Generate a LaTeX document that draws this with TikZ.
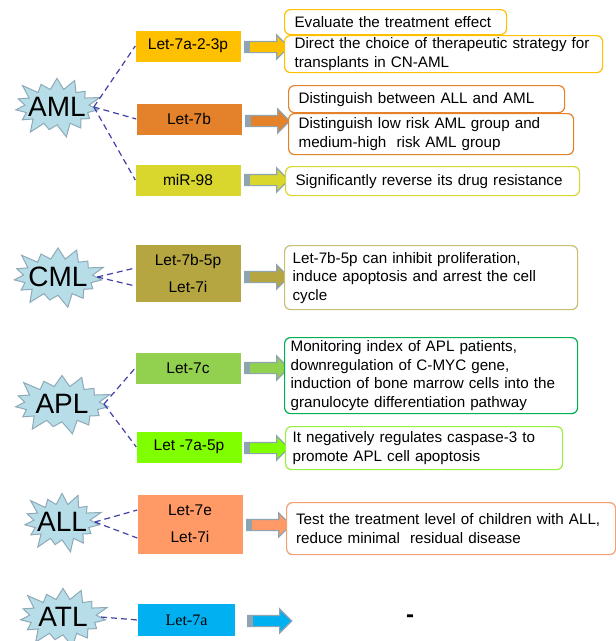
\documentclass[tikz,border=0pt]{standalone}
\usepackage{fontspec}
\setmainfont{Liberation Sans}
\newfontfamily\serifletfont{Liberation Serif}
\usepackage{xcolor}
\usepackage{tikz}
\usetikzlibrary{shapes,shapes.symbols,shapes.arrows,positioning,calc}

\definecolor{starblue}{HTML}{B7DEE8}
\definecolor{stargray}{HTML}{8EA9B8}
\definecolor{arrgray}{HTML}{8EA4B0}
\definecolor{linkblue}{HTML}{4040A8}
\definecolor{colA}{HTML}{FFC000}
\definecolor{colB}{HTML}{E3822A}
\definecolor{colC}{HTML}{D9D62E}
\definecolor{colD}{HTML}{B5A642}
\definecolor{colDline}{HTML}{C8C070}
\definecolor{colE}{HTML}{92D050}
\definecolor{colEline}{HTML}{00B050}
\definecolor{colF}{HTML}{80FF00}
\definecolor{colFline}{HTML}{99F040}
\definecolor{colG}{HTML}{FF9966}
\definecolor{colGline}{HTML}{F4A070}
\definecolor{colH}{HTML}{00B0F0}

\tikzstyle{disease} = [starburst, starburst points=15, starburst point height=15pt, draw=stargray, fill=starblue, line width=1pt, font=\fontsize{28}{28}\selectfont, inner ysep=3pt]
\tikzstyle{mirna} = [rectangle, minimum width=105pt, minimum height=31pt, font=\fontsize{15.5}{27}\selectfont, align=center, inner sep=0pt]
\tikzstyle{effect} = [rectangle, rounded corners=6pt, draw, line width=1.2pt, fill=white, anchor=north west, align=left, inner xsep=10pt, inner ysep=0pt, font=\fontsize{15.2}{18.5}\selectfont]
\tikzstyle{fatarrow} = [single arrow, draw=arrgray, line width=1.2pt, minimum height=44pt, inner xsep=0pt, inner ysep=5pt, single arrow head extend=6.5pt, path picture={\fill[arrgray] (path picture bounding box.south west) rectangle ([xshift=5pt]path picture bounding box.north west);}]
\tikzstyle{link} = [linkblue, dashed, dash pattern=on 6pt off 4pt, line width=1.2pt]

\begin{document}
\begin{tikzpicture}[x=1pt, y=-1pt]
    \useasboundingbox (0,0) rectangle (616,641);

    % AML
    \node[disease, inner xsep=-6pt] (aml) at (57,107) {AML};
    \node[mirna, fill=colA] (m1) at (188,46) {Let-7a-2-3p};
    \node[mirna, fill=colB] (m2) at (189,119) {Let-7b};
    \node[mirna, fill=colC] (m3) at (188,180) {miR-98};
    \node[fatarrow, fill=colA] (a1) at (264,47) {};
    \node[fatarrow, fill=colB] (a2) at (265,121) {};
    \node[fatarrow, fill=colC] (a3) at (264,180) {};
    \node[effect, draw=colA, text width=202pt, minimum height=25pt] (t1) at (284,9) {Evaluate the treatment effect};
    \node[effect, draw=colA, text width=298pt, minimum height=37pt] (t2) at (284,35) {Direct the choice of therapeutic strategy for\\transplants in CN-AML};
    \node[effect, draw=colB, text width=256pt, minimum height=27pt] (t3) at (288,85) {Distinguish between ALL and AML};
    \node[effect, draw=colB, text width=265pt, minimum height=41pt] (t4) at (288,113) {Distinguish low risk AML group and\\medium-high\ \ risk AML group};
    \node[effect, draw=colC, text width=274pt, minimum height=29pt] (t5) at (285,166) {Significantly reverse its drug resistance};

    % CML
    \node[disease, inner xsep=-5pt] (cml) at (58,277) {CML};
    \node[mirna, fill=colD, minimum height=57pt] (m4) at (188,273) {Let-7b-5p\\Let-7i};
    \node[fatarrow, fill=colD] (a4) at (264,277) {};
    \node[effect, draw=colDline, inner xsep=8pt, text width=277pt, minimum height=64pt] (t6) at (284,245) {Let-7b-5p can inhibit proliferation,\\induce apoptosis and arrest the cell\\cycle};

    % APL
    \node[disease, inner xsep=0pt] (apl) at (62,404) {APL};
    \node[mirna, fill=colE] (m5) at (188,368) {Let-7c};
    \node[mirna, fill=colF] (m6) at (189,447) {Let -7a-5p};
    \node[fatarrow, fill=colE] (a5) at (264,368) {};
    \node[fatarrow, fill=colF] (a6) at (264,448) {};
    \node[effect, draw=colEline, inner xsep=6pt, text width=281pt, minimum height=76pt] (t7) at (284,337) {Monitoring index of APL patients,\\downregulation of C-MYC gene,\\induction of bone marrow cells into the\\granulocyte differentiation pathway};
    \node[effect, draw=colFline, inner xsep=7pt, text width=263pt, minimum height=43pt] (t8) at (285,426) {It negatively regulates caspase-3 to\\promote APL cell apoptosis};

    % ALL
    \node[disease, inner xsep=-5pt] (all) at (62,522) {ALL};
    \node[mirna, fill=colG, minimum height=59pt] (m7) at (190,524) {Let-7e\\Let-7i};
    \node[fatarrow, fill=colG] (a7) at (266,525) {};
    \node[effect, draw=colGline, inner xsep=9.5pt, text width=310pt, minimum height=52pt] (t9) at (286,502) {Test the treatment level of children with ALL,\\reduce minimal\ \ residual disease};

    % ATL
    \node[disease, inner xsep=-1pt] (atl) at (63,617) {ATL};
    \node[mirna, fill=colH, minimum width=97pt, minimum height=32pt, font=\serifletfont\fontsize{16}{18}\selectfont] (m8) at (186.5,620) {Let-7a};
    \node[fatarrow, fill=colH] (a8) at (267,621) {};
    \node[font=\bfseries\fontsize{24}{24}\selectfont] (none) at (410,619) {-};

    % Links
    \draw[link] (aml.east) -- (m1.west);
    \draw[link] (aml.east) -- (m2.west);
    \draw[link] (aml.east) -- (m3.west);
    \draw[link] (cml.east) -- ([yshift=5pt]m4.west);
    \draw[link] (cml.east) -- ([yshift=-13pt]m4.west);
    \draw[link] (apl.east) -- (m5.west);
    \draw[link] (apl.east) -- (m6.west);
    \draw[link] (all.east) -- ([yshift=-14pt]m7.west);
    \draw[link] (all.east) -- ([yshift=14pt]m7.west);
    \draw[link] (atl.east) -- (m8.west);
\end{tikzpicture}
\end{document}
